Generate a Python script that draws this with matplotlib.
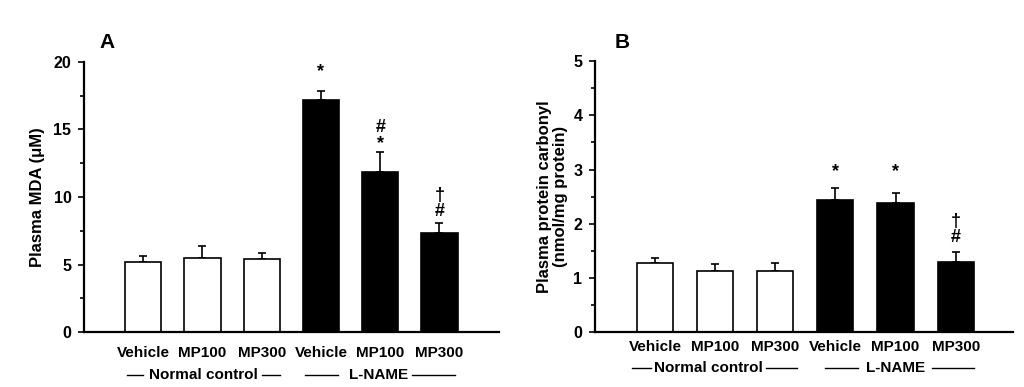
import matplotlib
matplotlib.use("Agg")

import matplotlib.pyplot as plt
from matplotlib.ticker import MultipleLocator
import numpy as np

plt.rcParams["font.family"] = ["Liberation Sans", "DejaVu Sans"]
plt.rcParams["font.weight"] = "bold"

# Data
groups = ["Vehicle", "MP100", "MP300", "Vehicle", "MP100", "MP300"]
bar_colors = ["white", "white", "white", "black", "black", "black"]

mda_mean = [5.16, 5.48, 5.38, 17.16, 11.85, 7.31]
mda_sem = [0.47, 0.91, 0.50, 0.69, 1.48, 0.79]
mda_marks = ["", "", "", "*", "#\n*", "\u2020\n#"]

carbonyl_mean = [1.28, 1.13, 1.13, 2.44, 2.38, 1.29]
carbonyl_sem = [0.09, 0.12, 0.14, 0.21, 0.19, 0.19]
carbonyl_marks = ["", "", "", "*", "*", "\u2020\n#"]


def draw_panel(ax, means, sems, marks, ymax, major, xlim, width, label_pad,
               row2_y, ylabel, ylabel_x, mark_off, seg):
    x = np.arange(len(means))
    ax.bar(x, means, width=width, color=bar_colors, edgecolor="black",
           linewidth=1.2, zorder=2)
    ax.errorbar(x, means, yerr=[np.zeros(len(sems)), sems], fmt="none",
                ecolor="black", elinewidth=1.2, capsize=3, capthick=1.2,
                zorder=1)
    for xi, m, s, t, off in zip(x, means, sems, marks, mark_off):
        if t:
            ax.annotate(t, (xi, m + s), xytext=(0, off),
                        textcoords="offset points", ha="center", va="bottom",
                        fontsize=13, fontweight="bold", linespacing=0.95)

    ax.set_xlim(*xlim)
    ax.set_ylim(0, ymax)
    ax.yaxis.set_major_locator(MultipleLocator(major))
    ax.yaxis.set_minor_locator(MultipleLocator(major / 2))
    ax.set_xticks(x)
    ax.set_xticklabels(groups, fontsize=11, fontweight="bold")
    ax.tick_params(axis="x", length=0, pad=label_pad)
    ax.tick_params(axis="y", which="major", length=4, width=1.2,
                   labelsize=11.5, pad=5)
    ax.tick_params(axis="y", which="minor", length=3, width=1.2)
    for lab in ax.get_yticklabels():
        lab.set_fontweight("bold")
    for side in ("top", "right"):
        ax.spines[side].set_visible(False)
    for side in ("left", "bottom"):
        ax.spines[side].set_linewidth(1.6)

    ax.set_ylabel(ylabel, fontsize=12, fontweight="bold", linespacing=1.1)
    ax.yaxis.set_label_coords(ylabel_x, 0.5)

    # group labels with flanking lines
    tr = ax.get_xaxis_transform()
    ax.text(seg["nc_center"], row2_y, "Normal control", transform=tr,
            ha="center", va="center", fontsize=11, fontweight="bold")
    ax.text(seg["ln_center"], row2_y, "L-NAME", transform=tr,
            ha="center", va="center", fontsize=11, fontweight="bold")
    for a, b in seg["lines"]:
        ax.plot([a, b], [row2_y, row2_y], transform=tr, color="black",
                lw=1.0, clip_on=False)


fig = plt.figure(figsize=(10.24, 3.87), dpi=100)
ax_a = fig.add_axes([0.082, 0.142, 0.405, 0.698])
ax_b = fig.add_axes([0.581, 0.142, 0.408, 0.700])

draw_panel(ax_a, mda_mean, mda_sem, mda_marks, 20, 5, (-1.0, 6.0), 0.61, 10,
           -0.159, "Plasma MDA (\u03bcM)", -0.094, [0, 0, 0, 8, 0, 2],
           {"nc_center": 1.02, "ln_center": 3.98,
            "lines": [(-0.27, 0.0), (2.0, 2.31), (2.73, 3.29), (4.54, 5.26)]})

draw_panel(ax_b, carbonyl_mean, carbonyl_sem, carbonyl_marks, 5, 1,
           (-1.0, 5.95), 0.6, 6, -0.133,
           "Plasma protein carbonyl\n(nmol/mg protein)", -0.065,
           [0, 0, 0, 6, 9, 4],
           {"nc_center": 0.88, "ln_center": 4.0,
            "lines": [(-0.38, -0.07), (1.84, 2.36), (2.82, 3.37), (4.61, 5.31)]})

fig.text(0.105, 0.891, "A", fontsize=15, fontweight="bold", ha="center",
         va="center")
fig.text(0.608, 0.891, "B", fontsize=15, fontweight="bold", ha="center",
         va="center")

fig.savefig("out.png", dpi=100)
plt.close(fig)
